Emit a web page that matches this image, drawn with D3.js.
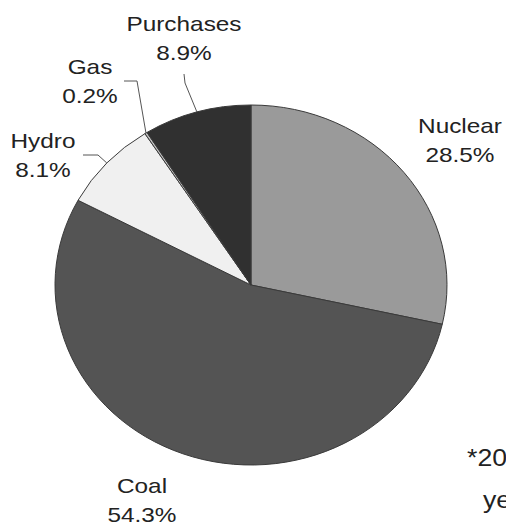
<!DOCTYPE html>
<html>
<head>
<meta charset="utf-8">
<script src="https://cdn.jsdelivr.net/npm/d3@7"></script>
<style>
  html, body { margin: 0; padding: 0; background: #fff; overflow: hidden; }
  text { font-family: "Liberation Sans", Arial, sans-serif; }
</style>
</head>
<body>
<div id="container"></div>
<script>
const categories = ["Nuclear", "Coal", "Hydro", "Gas", "Purchases"];
const shares = [28.5, 54.3, 8.1, 0.2, 8.9];
const colors = ["#9a9a9a", "#545454", "#f0f0f0", "#bdbdbd", "#303030"];

const width = 506;
const height = 527;

// pie is slightly squashed in the picture
const cx = 251, cy = 285;
const rx = 196, ry = 180;

// label layout: text centre x, first baseline, leader elbow points (if any)
const labelLayout = {
  Nuclear:   { x: 460, y: 133, leader: null },
  Coal:      { x: 142, y: 493, leader: null },
  Hydro:     { x: 43,  y: 148, leader: [[83, 155], [98, 155]] },
  Gas:       { x: 90,  y: 74,  leader: [[124, 81], [137, 81]] },
  Purchases: { x: 184, y: 31,  leader: [[184, 74], [185, 83]] }
};

const data = categories.map((c, i) => ({ name: c, value: shares[i], color: colors[i] }));

const pie = d3.pie().sort(null).value(d => d.value);
const arcs = pie(data);
const arc = d3.arc().innerRadius(0).outerRadius(rx);

const svg = d3.select('#container')
  .append('svg')
  .attr('width', width)
  .attr('height', height)
  .attr('viewBox', [0, 0, width, height]);

svg.append('g')
  .attr('transform', `translate(${cx},${cy}) scale(1,${ry / rx})`)
  .selectAll('path')
  .data(arcs)
  .join('path')
  .attr('d', arc)
  .attr('fill', d => d.data.color)
  .attr('stroke', '#3a3a3a')
  .attr('stroke-width', 1)
  .attr('vector-effect', 'non-scaling-stroke');

// point on the ellipse edge at the middle angle of a slice
const edgePoint = d => {
  const a = (d.startAngle + d.endAngle) / 2;
  return [cx + rx * Math.sin(a), cy - ry * Math.cos(a)];
};

svg.append('g')
  .selectAll('path')
  .data(arcs.filter(d => labelLayout[d.data.name].leader))
  .join('path')
  .attr('d', d => d3.line()([...labelLayout[d.data.name].leader, edgePoint(d)]))
  .attr('fill', 'none')
  .attr('stroke', '#555')
  .attr('stroke-width', 1);

const labels = svg.append('g')
  .selectAll('g')
  .data(arcs)
  .join('g')
  .attr('transform', d => {
    const p = labelLayout[d.data.name];
    return `translate(${p.x},${p.y}) scale(1.16,1)`;
  });

labels.append('text')
  .attr('text-anchor', 'middle')
  .attr('font-size', 21)
  .attr('fill', '#222')
  .text(d => d.data.name);

labels.append('text')
  .attr('text-anchor', 'middle')
  .attr('font-size', 21)
  .attr('fill', '#222')
  .attr('y', 29)
  .text(d => d.data.value.toFixed(1) + '%');

// footnote, cut off at the right edge in the original
const note = svg.append('g');
note.append('text')
  .attr('transform', 'translate(467,466) scale(1.16,1)')
  .attr('font-size', 23)
  .attr('fill', '#222')
  .text('*20');
note.append('text')
  .attr('transform', 'translate(483,508) scale(1.16,1)')
  .attr('font-size', 23)
  .attr('fill', '#222')
  .text('ye');
</script>
</body>
</html>
